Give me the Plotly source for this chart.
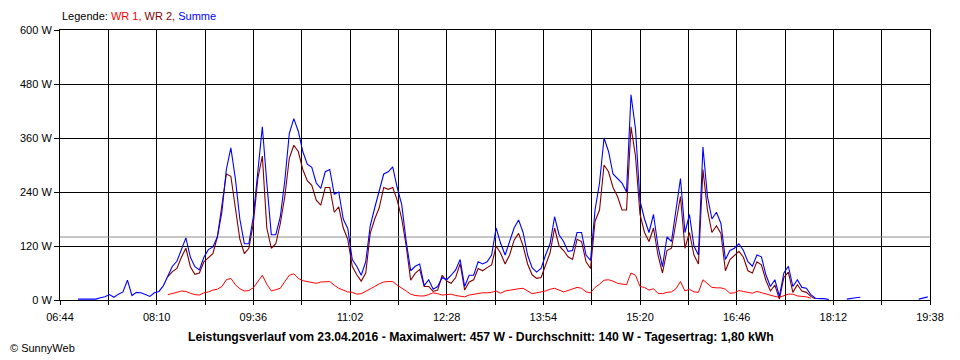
import plotly.graph_objects as go
from datetime import datetime, timedelta

# ---- data (4-minute samples from 06:44) ----
START = datetime(2016, 4, 23, 6, 44)
END = datetime(2016, 4, 23, 19, 38)
STEP_MIN = 4

N = None
SUMME = [N, N, N, N,
         2, 2, 1, 2, 2, 5, 7, 12, 6, 13, 18, 44, 10, 17, 16, 12, 8, 16, 19, 32,
         55, 75, 86, 112, 138, 95, 74, 67, 95, 112, 118, 140, 195, 290, 338, 270,
         180, 125, 125, 185, 290, 385, 260, 145, 145, 185, 265, 370, 403, 375, 330, 302,
         295, 260, 248, 285, 290, 235, 240, 180, 159, 90, 75, 55, 85, 165, 205, 240,
         280, 285, 296, 250, 212, 130, 65, 75, 80, 32, 45, 24, 30, 50, 45, 55,
         67, 90, 30, 55, 55, 85, 80, 85, 100, 160, 126, 100, 130, 160, 178, 150,
         100, 72, 62, 70, 100, 125, 185, 145, 130, 108, 110, 150, 150, 100, 88, 200,
         260, 360, 330, 280, 270, 260, 240, 456, 380, 220, 180, 150, 190, 120, 74, 140,
         130, 200, 270, 150, 190, 120, 100, 340, 230, 180, 195, 170, 90, 110, 115, 125,
         110, 85, 75, 100, 96, 56, 30, 45, 8, 60, 75, 30, 45, 28, 26, 12,
         4, 3, 3, 1,
         N, N, N,
         2, 4, 5, 6,
         N, N, N, N, N, N, N, N, N, N, N, N,
         2, 4, 7]

WR2 = [N] * 24 + [
         52, 63, 70, 95, 115, 74, 57, 60, 85, 95, 103, 140, 210, 280, 275, 207,
         135, 103, 115, 170, 270, 320, 160, 115, 125, 170, 230, 315, 344, 330, 290, 265,
         255, 222, 211, 250, 250, 195, 207, 160, 135, 75, 56, 42, 60, 148, 180, 205,
         250, 246, 250, 222, 181, 120, 44, 59, 68, 30, 30, 19, 22, 55, 42, 37,
         50, 81, 22, 40, 45, 70, 65, 72, 78, 120, 104, 80, 100, 133, 148, 120,
         80, 56, 48, 50, 78, 105, 160, 120, 110, 96, 90, 135, 130, 85, 70, 175,
         200, 300, 285, 250, 230, 200, 200, 385, 320, 190, 150, 130, 160, 100, 60, 110,
         115, 170, 230, 115, 150, 100, 80, 290, 200, 150, 165, 148, 65, 90, 100, 108,
         95, 65, 60, 85, 78, 44, 20, 33, 2, 50, 62, 17, 34, 20, 17, 8,
         3] + [N] * 25

WR1 = [N] * 24 + [
         12, 14, 17, 20, 19, 15, 12, 11, 16, 18, 22, 24, 30, 45, 48, 34,
         25, 20, 21, 27, 41, 55, 35, 20, 23, 26, 41, 55, 58, 48, 43, 41,
         38, 37, 40, 41, 41, 33, 26, 22, 18, 17, 13, 14, 19, 25, 30, 36,
         40, 41, 41, 33, 27, 20, 13, 10, 9, 9, 12, 16, 14, 11, 12, 13,
         10, 8, 7, 11, 13, 15, 16, 16, 17, 20, 15, 20, 22, 24, 25, 26,
         20, 14, 16, 18, 20, 24, 26, 22, 18, 21, 24, 28, 26, 18, 16, 28,
         35, 44, 45, 42, 37, 36, 34, 60, 55, 30, 28, 22, 25, 15, 14, 17,
         18, 25, 41, 20, 24, 18, 17, 45, 37, 28, 27, 27, 24, 15, 16, 21,
         19, 17, 15, 19, 16, 14, 11, 8, 6, 9, 13, 13, 9, 8, 7, 4] + [N] * 26

MEAN_W = 140

GRID_TIMES = ["06:44", "07:27", "08:10", "08:53", "09:36", "10:19", "11:02",
              "11:45", "12:28", "13:11", "13:54", "14:37", "15:20", "16:03",
              "16:46", "17:29", "18:12", "18:55", "19:38"]
X_LABELS = ["06:44", "", "08:10", "", "09:36", "", "11:02", "", "12:28", "",
            "13:54", "", "15:20", "", "16:46", "", "18:12", "", "19:38"]
Y_TICKS = [0, 120, 240, 360, 480, 600]
Y_LABELS = ["0 W", "120 W", "240 W", "360 W", "480 W", "600 W"]

TITLE = ("Leistungsverlauf vom 23.04.2016 - Maximalwert: 457 W - "
         "Durchschnitt: 140 W - Tagesertrag: 1,80 kWh")

# ---- figure ----
times = [START + timedelta(minutes=STEP_MIN * i) for i in range(len(SUMME))]
grid_vals = ["2016-04-23 " + t for t in GRID_TIMES]

FONT = "Liberation Sans, Arial, sans-serif"

# the page body has an 8px margin; the figure is sized/placed to compensate
W, H = 952, 352
ML, MT = 52, 22
MR = W - (930 - 8)
MB = H - (300 - 8)
PW, PH = W - ML - MR, H - MT - MB


def px_to_paper(px, py):
    return (px - 8 - ML) / PW, (H - MB - (py - 8)) / PH


fig = go.Figure()
fig.add_trace(go.Scatter(x=[START, END], y=[MEAN_W, MEAN_W], mode="lines",
                         line=dict(color="#8c8c8c", width=1), hoverinfo="skip"))
fig.add_trace(go.Scatter(x=times, y=WR1, mode="lines", name="WR 1",
                         line=dict(color="#ff0000", width=1)))
fig.add_trace(go.Scatter(x=times, y=WR2, mode="lines", name="WR 2",
                         line=dict(color="#800000", width=1.1)))
fig.add_trace(go.Scatter(x=times, y=SUMME, mode="lines", name="Summe",
                         line=dict(color="#0000ff", width=1.1)))

fig.update_layout(
    width=W, height=H,
    margin=dict(l=ML, r=MR, t=MT, b=MB, pad=0),
    paper_bgcolor="white", plot_bgcolor="white",
    showlegend=False,
    font=dict(family=FONT, size=11, color="black"),
    xaxis=dict(type="date", range=[START, END],
               tickmode="array", tickvals=grid_vals, ticktext=X_LABELS,
               showgrid=True, gridcolor="black", gridwidth=1,
               ticks="outside", ticklen=4, tickcolor="black",
               showline=True, linecolor="black", linewidth=1, mirror=True,
               zeroline=False, ticklabelstandoff=3,
               tickfont=dict(family=FONT, size=11, color="black")),
    yaxis=dict(range=[0, 600], tickmode="array", tickvals=Y_TICKS, ticktext=Y_LABELS,
               showgrid=True, gridcolor="black", gridwidth=1,
               ticks="outside", ticklen=5, tickcolor="black",
               showline=True, linecolor="black", linewidth=1, mirror=True,
               zeroline=False, tickfont=dict(family=FONT, size=11, color="black")),
)

lx, ly = px_to_paper(60, 16.5)
fig.add_annotation(xref="paper", yref="paper", x=lx, y=ly,
                   xanchor="left", yanchor="middle", showarrow=False,
                   text=("Legende: <span style='color:#ff0000'>WR 1,</span> "
                         "<span style='color:#800000'>WR 2,</span> "
                         "<span style='color:#0000ff'>Summe</span>"),
                   font=dict(family=FONT, size=11, color="black"))
tx, ty = px_to_paper(480.5, 337)
fig.add_annotation(xref="paper", yref="paper", x=tx, y=ty,
                   xanchor="center", yanchor="middle", showarrow=False,
                   text="<b>" + TITLE + "</b>",
                   font=dict(family=FONT, size=12.2, color="black"))
cx, cy = px_to_paper(8, 348)
fig.add_annotation(xref="paper", yref="paper", x=cx, y=cy,
                   xanchor="left", yanchor="middle", showarrow=False,
                   text="© SunnyWeb",
                   font=dict(family=FONT, size=11, color="black"))

fig.write_html("out.html")
